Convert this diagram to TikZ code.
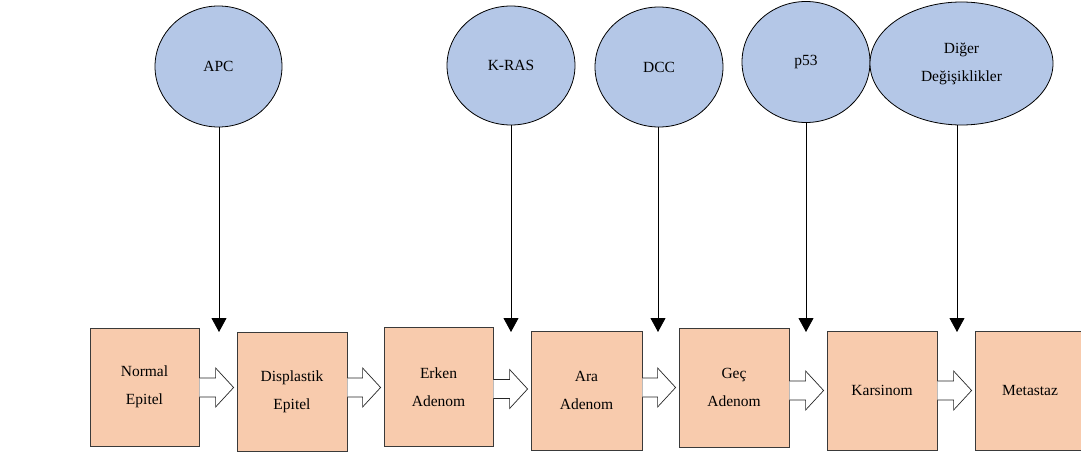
\documentclass[tikz,border=0pt]{standalone}
\usepackage{fontspec}
\setmainfont{Liberation Serif}
\usetikzlibrary{shapes.geometric,arrows.meta,calc}
\definecolor{peach}{HTML}{F8CBAD}
\definecolor{lblue}{HTML}{B4C7E7}
\definecolor{edge}{HTML}{3A3A3A}
\newcommand{\barrow}[3]{%
  \draw[barrowstyle] let \p1=(#1.east), \p2=(#2.west) in
    (\x1,-#3pt+9.5pt) -- (\x2-21pt,-#3pt+9.5pt) -- (\x2-21pt,-#3pt+19.5pt)
    -- (\x2-3pt,-#3pt) -- (\x2-21pt,-#3pt-19.5pt) -- (\x2-21pt,-#3pt-9.5pt)
    -- (\x1,-#3pt-9.5pt);}
\begin{document}
\begin{tikzpicture}[x=1pt,y=-1pt,
  txt/.style={font=\fontsize{15.5}{28}\selectfont, align=center, text=black},
  stagebox/.style={txt, draw=edge, line width=0.8pt, fill=peach, inner sep=0pt, minimum width=110pt, minimum height=119pt},
  gene/.style={txt, draw=black, line width=0.8pt, fill=lblue, ellipse, inner sep=0pt, minimum width=127pt, minimum height=121pt},
  barrowstyle/.style={draw=black!85, line width=0.7pt, fill=white, line join=miter},
  down/.style={draw=black, line width=0.8pt, -{Triangle[length=14pt,width=15pt]}}]
\useasboundingbox (0,0) rectangle (1081,454);
\fill[white] (0,0) rectangle (1081,454);
% stages
\node[stagebox, minimum width=109pt, minimum height=118pt] (b1) at (144.5,387) {Normal\\Epitel};
\node[stagebox] (b2) at (292,391.5) {Displastik\\Epitel};
\node[stagebox, minimum width=109pt] (b3) at (438.5,387) {Erken\\Adenom};
\node[stagebox, minimum width=111pt] (b4) at (586.5,390.5) {Ara\\Adenom};
\node[stagebox] (b5) at (734,387.5) {Geç\\Adenom};
\node[stagebox] (b6) at (882,390.5) {Karsinom};
\node[stagebox] (b7) at (1030,390.5) {Metastaz};
% block arrows
\barrow{b1}{b2}{387.5}
\barrow{b2}{b3}{387.5}
\barrow{b3}{b4}{389}
\barrow{b4}{b5}{387.5}
\barrow{b5}{b6}{390.5}
\barrow{b6}{b7}{390.5}
% genes
\node[gene] (c1) at (218.5,66.5) {APC};
\node[gene, minimum width=128pt, minimum height=119pt] (c2) at (511,65.5) {K-RAS};
\node[gene, minimum width=128pt, minimum height=120pt] (c3) at (659,67) {DCC};
\node[gene, minimum width=128pt] (c4) at (806,62) {p53};
\node[gene, minimum width=183pt, minimum height=123pt] (c5) at (961.5,63.5) {Diğer\\Değişiklikler};
% targets
\coordinate (t1) at (219,332);
\coordinate (t2) at (511,332);
\coordinate (t3) at (658,332);
\coordinate (t4) at (806,332);
\coordinate (t5) at (957,332);
\foreach \i in {1,...,5} {\draw[down] (c\i.south -| t\i) -- (t\i);}
\end{tikzpicture}
\end{document}
